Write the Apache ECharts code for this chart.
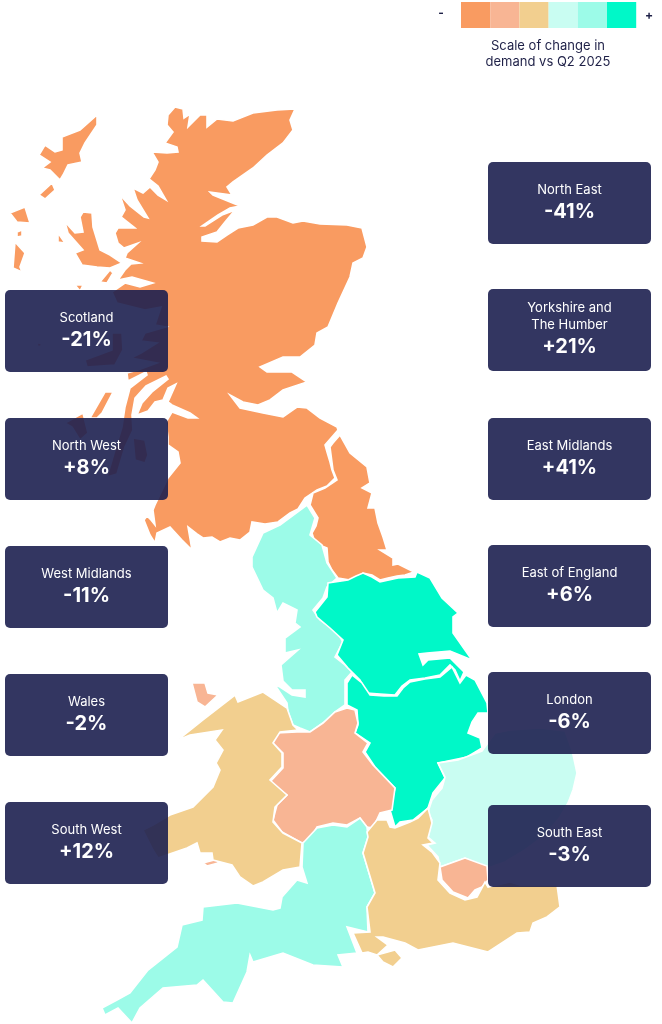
<!DOCTYPE html>
<html>
<head>
<meta charset="utf-8">
<title>Scale of change in demand vs Q2 2025</title>
<script src="https://cdn.jsdelivr.net/npm/echarts@6/dist/echarts.min.js"></script>
<style>
html, body { margin: 0; padding: 0; background: #fff; }
#chart { width: 662px; height: 1024px; }
</style>
</head>
<body>
<div id="chart"></div>
<script>
// change in demand per region
var regionNames = ['Scotland', 'North East', 'North West', 'Yorkshire and The Humber', 'East Midlands',
    'West Midlands', 'Wales', 'East of England', 'London', 'South West', 'South East'];
var regionValues = [-21, -41, 8, 21, 41, -11, -2, 6, -6, 12, -3];

// cards: order down the columns
var leftCards = ['Scotland', 'North West', 'West Midlands', 'Wales', 'South West'];
var rightCards = ['North East', 'Yorkshire and The Humber', 'East Midlands', 'East of England', 'London', 'South East'];
var leftCardTops = [290, 418, 546, 674, 802];
var rightCardTops = [162, 289, 418, 545, 672, 805];

// legend buckets
var bucketLimits = [-15, -5, 0, 7, 15];
var bucketColors = ['#F99B61', '#F8B594', '#F2CF8F', '#C9FDF2', '#9CFBE8', '#00F8C8'];
var scaleCaption = ['Scale of change in', 'demand vs Q2 2025'];

var scotlandShape = [
    [168,115,167,125,173,132,165,143,177,147,178,152,167,153,152,152,158,162,155,170,149,179,158,186,166,200,158,195,150,187,143,193,133,188,137,200,148,218,144,217,130,206,120,195,125,210,121,217,135,228,118,228,115,233,118,243,124,248,138,243,127,253,125,258,140,263,131,264,125,270,118,280,132,277,153,283,140,287,125,283,112,292,117,303,145,310,161,307,155,325,166,327,145,333,141,341,157,343,141,353,131,358,157,363,138,370,127,373,128,381,146,372,147,375,130,388,125,407,122,427,115,450,107,477,117,474,125,447,133,430,132,415,135,398,146,386,166,376,168,379,152,392,142,403,137,415,148,411,155,402,163,400,168,388,176,384,168,402,172,405,190,413,197,418,188,418,172,412,166,422,168,437,168,445,178,452,180,463,168,478,155,505,153,510,155,525,151,520,147,516,144,520,150,535,155,543,157,533,170,527,182,540,192,550,188,527,197,534,203,538,212,537,220,542,230,538,240,540,250,532,252,522,265,524,278,522,290,513,298,509,305,498,317,490,327,486,335,478,332,470,330,462,327,452,325,445,338,430,337,427,320,418,307,408,297,407,283,417,263,413,240,408,230,395,243,402,258,405,270,400,283,390,307,382,292,372,267,372,260,367,283,357,300,357,315,345,317,333,328,327,338,303,350,277,353,263,363,258,367,247,362,228,347,225,320,224,303,221,293,223,277,217,267,217,253,225,238,228,227,235,217,242,202,241,202,237,217,232,225,222,235,210,230,212,222,215,205,226,202,226,218,215,230,208,240,206,213,195,210,192,232,195,227,187,233,182,253,168,267,155,283,143,293,130,290,120,295,109,277,110,253,113,233,121,217,119,207,127,207,115,200,115,188,127,190,114,184,118,183,109,175,107],
    [97,115,97,125,85,143,80,153,82,162,68,165,63,175,60,180,50,170,42,168,50,162,39,155,45,145,55,152,62,150,62,137,80,130],
    [39,195,52,183,55,190,45,199],
    [10,213,25,207,30,223,17,222],
    [17,232,22,230,22,236,17,237],
    [15,242,25,253,20,267,22,272,13,268],
    [83,212,92,213,93,227,100,250,110,255,122,263,110,268,97,267,82,265,75,253,83,250,68,233,65,222,75,233,83,232,80,217],
    [58,233,65,243,58,242],
    [75,285,83,285,80,291],
    [100,282,110,270,113,273,107,283],
    [85,360,112,350,112,333,122,333,123,350,115,365,87,367],
    [37,342,43,345,38,347],
    [133,438,145,440,148,455,145,463,135,460],
    [65,423,83,413,88,433,80,440,72,427],
    [90,418,105,392,113,392,102,413,97,418]
];
var northEastShape = [
    [340,435,350,453,367,467,370,483,362,488,372,493,368,508,375,508,378,523,383,537,387,550,380,550,393,558,393,565,398,564,414,572,405,575,397,576,388,578,380,580,372,575,363,573,356,578,350,580,338,578,332,570,328,562,327,548,315,543,312,533,316,526,318,518,310,505,313,493,325,488,337,480,333,470,330,447,333,443]
];
var northWestShape = [
    [307,505,315,518,310,535,322,545,327,563,337,578,327,587,323,598,313,610,320,620,330,627,337,632,343,642,335,657,344,664,352,672,345,680,345,705,335,712,323,723,310,732,300,728,293,725,288,712,287,703,275,685,280,687,292,695,305,697,305,690,292,690,283,681,281,665,298,650,285,653,285,638,300,627,295,623,297,610,283,603,277,613,273,598,263,590,252,567,252,557,263,533,280,525]
];
var yorkshireShape = [
    [315,612,327,597,328,583,348,580,356,576,363,573,372,577,380,582,398,578,415,577,417,572,430,578,442,598,458,613,453,617,453,633,472,660,450,651,427,653,419,654,423,665,428,660,450,658,464,672,460,681,455,670,450,665,440,675,425,678,410,680,402,686,395,695,380,694,367,693,360,680,348,668,337,655,343,640,330,628,317,617]
];
var eastMidlandsShape = [
    [466,675,460,683,452,667,440,677,425,679,410,682,403,688,397,696,384,696,370,695,362,683,352,675,347,683,347,705,357,710,358,725,355,733,370,743,365,752,375,767,395,788,390,810,395,827,400,822,413,820,428,808,433,793,445,778,438,763,467,757,482,748,480,738,468,733,472,722,478,713,488,713,487,703,475,680]
];
var westMidlandsShape = [
    [347,708,355,710,358,723,355,733,368,743,363,752,373,765,395,788,392,810,380,813,373,828,367,827,360,818,347,825,333,823,317,827,310,840,302,843,282,832,273,820,277,805,287,795,270,782,283,768,283,753,273,743,277,733,297,732,310,732,323,723,335,712],
    [192,683,205,683,208,693,218,695,205,707,197,702],
    [203,863,218,859,218,863,207,866]
];
var walesShape = [
    [178,740,203,720,235,695,238,702,263,692,287,708,293,725,298,730,280,732,273,743,282,753,282,767,270,780,287,795,275,807,273,822,283,833,302,843,300,867,283,870,263,882,253,886,240,877,232,865,213,860,212,853,200,853,197,843,187,848,158,858,153,850,143,830,153,825,170,815,193,807,213,787,220,770,216,763,223,750,215,740,222,730,203,733,190,735]
];
var eastEnglandShape = [
    [438,763,445,777,442,788,432,800,428,812,432,820,428,837,435,843,427,845,438,857,440,867,465,858,488,868,505,862,525,850,545,835,560,817,568,803,573,790,577,773,572,750,565,731,540,728,510,730,495,733,482,751,458,760]
];
var londonShape = [
    [440,867,465,858,487,866,488,880,482,887,475,890,468,898,453,892,442,880]
];
var southWestShape = [
    [303,843,317,828,333,825,347,827,360,818,367,827,368,837,363,853,375,893,367,907,368,932,347,927,357,953,338,955,343,967,313,965,283,953,253,962,250,955,247,972,233,1003,223,1002,203,980,197,985,163,988,140,1008,132,1023,118,1008,105,1015,102,1008,117,1000,130,993,148,970,177,947,182,925,202,920,203,907,237,903,273,910,280,908,282,897,297,880,307,883,302,867]
];
var southEastShape = [
    [367,832,377,820,387,820,390,827,395,828,410,822,418,818,428,808,432,823,428,838,433,843,423,845,432,852,440,863,438,880,450,893,465,900,477,897,485,882,488,887,510,882,520,885,557,885,560,907,547,917,533,923,530,932,517,933,488,952,453,943,418,950,405,943,383,937,377,937,388,945,377,955,368,952,362,953,353,933,370,932,367,907,375,893,363,853,368,837],
    [377,955,395,950,402,958,393,967,383,962]
];
var regionShapes = [scotlandShape, northEastShape, northWestShape, yorkshireShape, eastMidlandsShape,
    westMidlandsShape, walesShape, eastEnglandShape, londonShape, southWestShape, southEastShape];

var fontName = 'Inter, sans-serif';
var ink = '#1E2047';

function toRing(flat) {
    var ring = [];
    for (var i = 0; i < flat.length; i += 2) {
        ring.push([flat[i], flat[i + 1]]);
    }
    ring.push(ring[0]);
    return ring;
}

var ukGeo = {
    type: 'FeatureCollection',
    features: regionNames.map(function (name, i) {
        return {
            type: 'Feature',
            properties: {name: name},
            geometry: {
                type: 'MultiPolygon',
                coordinates: regionShapes[i].map(function (flat) {
                    return [toRing(flat)];
                })
            }
        };
    })
};
echarts.registerMap('uk', ukGeo);

function signed(v) {
    return (v > 0 ? '+' : '') + v + '%';
}

function cardLines(name) {
    return name === 'Yorkshire and The Humber' ? ['Yorkshire and', 'The Humber'] : [name];
}

function makeCard(name, left, top) {
    var lines = cardLines(name);
    var valueY = top + (lines.length > 1 ? 58 : 50);
    var children = [{
        type: 'rect',
        z: 100,
        shape: {x: left, y: top, width: 163, height: 82, r: 5},
        style: {fill: '#1D2050', opacity: 0.9}
    }];
    lines.forEach(function (line, i) {
        children.push({
            type: 'text',
            z: 101,
            style: {
                x: left + 81.5, y: valueY - 22 - (lines.length - 1 - i) * 17,
                text: line, fill: '#fff', font: '13px ' + fontName,
                align: 'center', verticalAlign: 'middle'
            }
        });
    });
    children.push({
        type: 'text',
        z: 101,
        style: {
            x: left + 81.5, y: valueY,
            text: signed(regionValues[regionNames.indexOf(name)]), fill: '#fff',
            font: 'bold 20px ' + fontName,
            align: 'center', verticalAlign: 'middle'
        }
    });
    return {type: 'group', silent: true, children: children};
}

var graphics = [];
leftCards.forEach(function (name, i) {
    graphics.push(makeCard(name, 5, leftCardTops[i]));
});
rightCards.forEach(function (name, i) {
    graphics.push(makeCard(name, 488, rightCardTops[i]));
});
graphics.push({type: 'text', style: {x: 441, y: 13, text: '-', fill: ink, font: 'bold 12px ' + fontName, align: 'center', verticalAlign: 'middle'}});
graphics.push({type: 'text', style: {x: 649, y: 15, text: '+', fill: ink, font: 'bold 12px ' + fontName, align: 'center', verticalAlign: 'middle'}});
scaleCaption.forEach(function (line, i) {
    graphics.push({type: 'text', style: {x: 548, y: 46 + i * 16, text: line, fill: ink, font: '13px ' + fontName, align: 'center', verticalAlign: 'middle'}});
});

var pieces = bucketColors.map(function (color, i) {
    var piece = {color: color};
    if (i > 0) { piece.gte = bucketLimits[i - 1]; }
    if (i < bucketLimits.length) { piece.lt = bucketLimits[i]; }
    return piece;
});

var chart = echarts.init(document.getElementById('chart'), null, {renderer: 'canvas'});
chart.setOption({
    animation: false,
    backgroundColor: '#fff',
    visualMap: {
        type: 'piecewise',
        orient: 'horizontal',
        left: 461,
        top: 2,
        padding: 0,
        itemWidth: 29.2,
        itemHeight: 26,
        itemGap: 0,
        itemSymbol: 'rect',
        showLabel: false,
        hoverLink: false,
        selectedMode: false,
        pieces: pieces
    },
    graphic: graphics,
    series: [{
        type: 'map',
        map: 'uk',
        projection: {
            project: function (p) { return p; },
            unproject: function (p) { return p; }
        },
        boundingCoords: [[0, 0], [662, 1024]],
        left: 0,
        top: 0,
        width: 662,
        height: 1024,
        roam: false,
        silent: true,
        label: {show: false},
        emphasis: {disabled: true},
        select: {disabled: true},
        itemStyle: {borderColor: '#fff', borderWidth: 1.6},
        data: regionNames.map(function (name, i) {
            return {name: name, value: regionValues[i]};
        })
    }]
});
</script>
</body>
</html>
